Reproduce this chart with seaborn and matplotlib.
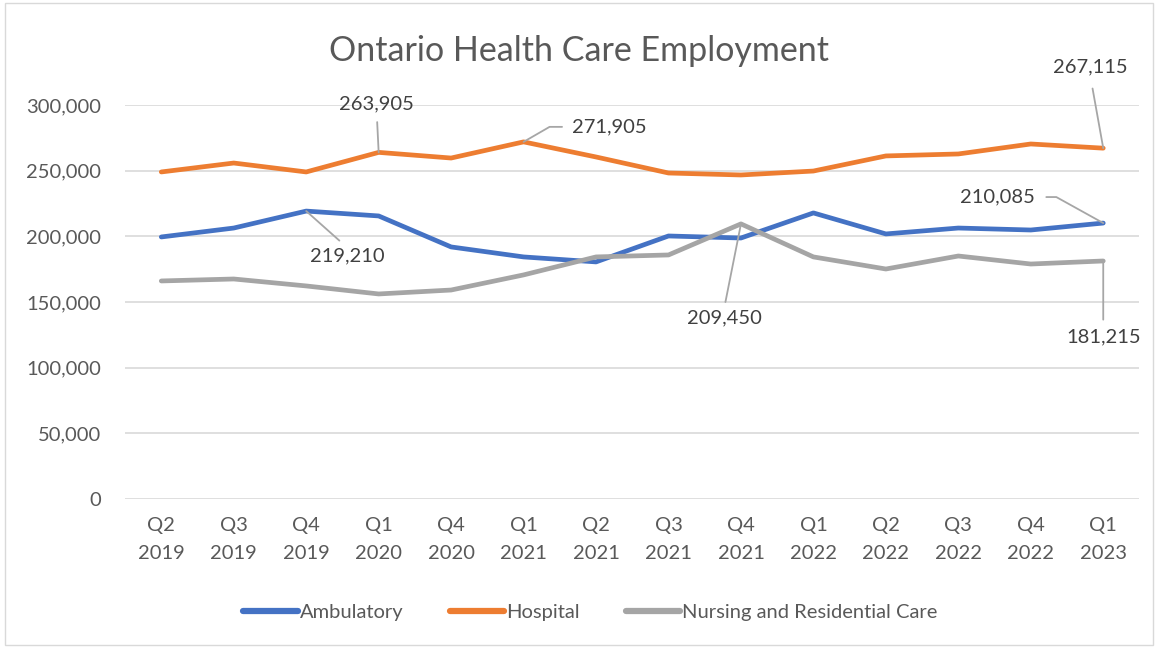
import pandas as pd
import seaborn as sns
import matplotlib.pyplot as plt
from matplotlib.patches import Rectangle

# data
quarters = ["Q2\n2019", "Q3\n2019", "Q4\n2019", "Q1\n2020", "Q4\n2020", "Q1\n2021", "Q2\n2021",
            "Q3\n2021", "Q4\n2021", "Q1\n2022", "Q2\n2022", "Q3\n2022", "Q4\n2022", "Q1\n2023"]
ambulatory = [199500, 206300, 219210, 215500, 191900, 184300, 180500,
              200250, 198700, 217800, 201800, 206300, 204800, 210085]
hospital = [249000, 255800, 249000, 263905, 259600, 271905, 260400,
            248200, 246700, 249700, 261200, 262700, 270300, 267115]
nursing = [166000, 167500, 162200, 156100, 159100, 170600, 184300,
           185800, 209450, 184300, 175100, 185000, 178900, 181215]
series = ["Ambulatory", "Hospital", "Nursing and Residential Care"]
colors = ["#4472C4", "#ED7D31", "#A5A5A5"]

rows = []
for name, vals in zip(series, [ambulatory, hospital, nursing]):
    for i, v in enumerate(vals):
        rows.append({"idx": i, "value": v, "series": name})
df = pd.DataFrame(rows)

sns.set_style("white")
plt.rcParams['font.family'] = ['Lato', 'DejaVu Sans']
text_col = "#595959"
fs = 14.5

fig = plt.figure(figsize=(11.58, 6.48), dpi=100)
ax = fig.add_axes([0.108, 0.230, 0.876, 0.608])

sns.lineplot(data=df, x="idx", y="value", hue="series", palette=colors, linewidth=3.4,
             sort=False, ax=ax, legend=False)

ax.set_xlim(-0.5, len(quarters) - 0.5)
ax.set_ylim(0, 300000)
ax.set_yticks(range(0, 300001, 50000))
ax.set_yticklabels([f"{v:,}" for v in range(0, 300001, 50000)])
ax.set_xticks(range(len(quarters)))
ax.set_xticklabels(quarters, linespacing=1.75)
ax.tick_params(axis="both", colors=text_col, labelsize=fs, length=0)
ax.tick_params(axis="x", pad=13)
ax.tick_params(axis="y", pad=17)
ax.grid(axis="y", color="#D9D9D9", linewidth=1.2)
ax.set_axisbelow(True)
for s in ax.spines.values():
    s.set_visible(False)
ax.set_xlabel("")
ax.set_ylabel("")

fig.text(0.5, 0.922, "Ontario Health Care Employment", ha="center", va="center",
         fontsize=24.5, color=text_col)

# data labels with leader lines (offsets in pixels)
def label(i, vals, dx, dy, relpos, shrink=3, conn="arc3"):
    ax.annotate(f"{vals[i]:,}", xy=(i, vals[i]), xytext=(dx, dy), textcoords="offset pixels",
                ha="center", va="center", fontsize=fs, color="#404040",
                arrowprops=dict(arrowstyle="-", color="#A6A6A6", lw=1.3, shrinkA=shrink, shrinkB=0,
                                relpos=relpos, connectionstyle=conn))

label(3, hospital, -2, 49, (0.5, 0), shrink=5)
label(5, hospital, 86, 15, (0, 0.5), shrink=5, conn="angle,angleA=0,angleB=30,rad=0")
label(2, ambulatory, 41, -45, (0.5, 1), shrink=4)
label(8, nursing, -17, -94, (0.5, 1), shrink=3)
label(13, hospital, -13, 81, (0.5, 0), shrink=7)
label(13, ambulatory, -106, 26, (1, 0.5), shrink=6, conn="angle,angleA=0,angleB=151,rad=0")
label(13, nursing, 0, -76, (0.5, 1), shrink=4)

# legend
handles = [plt.Line2D([], [], color=c, lw=4.5) for c in colors]
fig.legend(handles, series, loc="center", bbox_to_anchor=(0.51, 0.055), ncol=3, frameon=False,
           fontsize=fs, labelcolor=text_col, handlelength=2.7, handletextpad=0.1, columnspacing=2.3)

# chart area border
fig.patches.append(Rectangle((0.004, 0.004), 0.992, 0.992, transform=fig.transFigure,
                             fill=False, edgecolor="#D9D9D9", lw=1))

fig.savefig("out.png", dpi=100, facecolor="white")
